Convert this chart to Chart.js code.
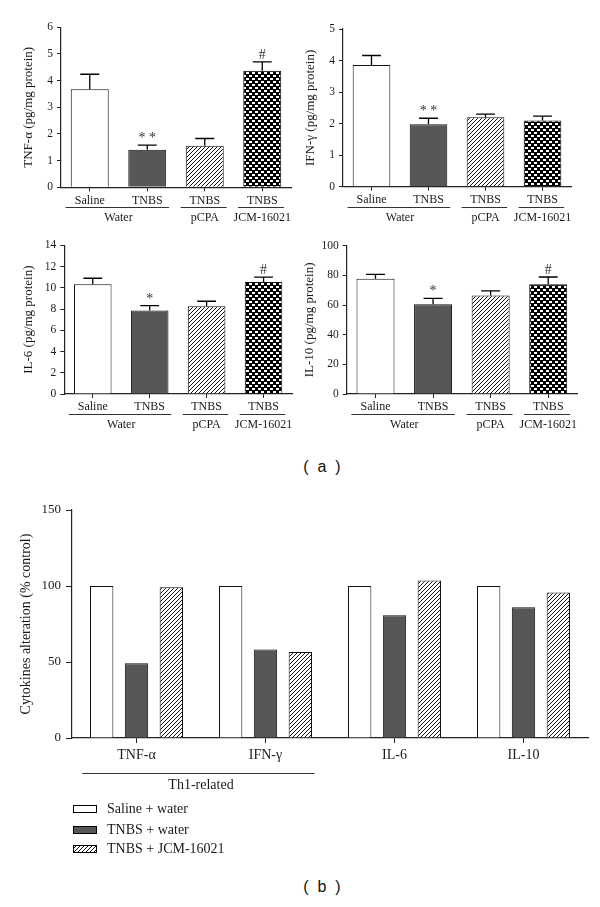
<!DOCTYPE html>
<html><head><meta charset="utf-8">
<script src="https://cdn.jsdelivr.net/npm/chart.js@4/dist/chart.umd.min.js"></script>
<style>
html,body{margin:0;padding:0;background:#fff;width:600px;height:907px;overflow:hidden;position:relative}
canvas{position:absolute;display:block}
.panel{position:absolute;font-family:"Liberation Sans",Arial,sans-serif;font-size:16px;color:#111;white-space:pre;transform:translate(-50%,-50%)}
</style></head><body>
<canvas id="cTNF" style="left:0;top:0" width="300" height="232"></canvas>
<canvas id="cIFN" style="left:300px;top:0" width="300" height="232"></canvas>
<canvas id="cIL6" style="left:0;top:232px" width="300" height="208"></canvas>
<canvas id="cIL10" style="left:300px;top:232px" width="300" height="208"></canvas>
<canvas id="cPct" style="left:0;top:490px" width="600" height="380"></canvas>
<div class="panel" style="left:322px;top:467px">(  a  )</div>
<div class="panel" style="left:322px;top:887px">(  b  )</div>
<script>
// ---------------- DATA ----------------
const groupCategories = ['Saline', 'TNBS', 'TNBS', 'TNBS'];
const groupTreatments = ['Water', 'Water', 'pCPA', 'JCM-16021'];

const tnfMeans = [3.68, 1.41, 1.56, 4.37];
const tnfSEM   = [0.56, 0.17, 0.27, 0.33];
const tnfMarks = ['', '**', '', '#'];

const ifnMeans = [3.86, 1.98, 2.20, 2.10];
const ifnSEM   = [0.30, 0.19, 0.10, 0.14];
const ifnMarks = ['', '**', '', ''];

const il6Means = [10.33, 7.85, 8.26, 10.55];
const il6SEM   = [0.57, 0.47, 0.47, 0.45];
const il6Marks = ['', '*', '', '#'];

const il10Means = [77.7, 60.5, 66.5, 74.0];
const il10SEM   = [3.0, 4.0, 3.0, 4.9];
const il10Marks = ['', '*', '', '#'];

const cytokines = ['TNF-α', 'IFN-γ', 'IL-6', 'IL-10'];
const cytokineFamily = ['Th1-related', 'Th1-related', '', ''];
const seriesLabels = ['Saline + water', 'TNBS + water', 'TNBS + JCM-16021'];
const salineWaterPct = [100, 100, 100, 100];
const tnbsWaterPct   = [49.1, 58.3, 80.7, 86.0];
const tnbsJcmPct     = [99.1, 56.6, 103.7, 95.8];

// ---------------- STYLE ----------------
const SERIF = '"Liberation Serif","Times New Roman",serif';
const INK = '#1a1a1a';
const AXIS = '#222';
const DARK = '#575757';
Chart.defaults.font.family = SERIF;
Chart.defaults.color = INK;
Chart.defaults.animation = false;

function hatchPattern() {
  const c = document.createElement('canvas'); c.width = 4; c.height = 4;
  const g = c.getContext('2d');
  g.fillStyle = '#fff'; g.fillRect(0, 0, 4, 4);
  g.strokeStyle = '#111'; g.lineWidth = 1.0;
  g.beginPath();
  g.moveTo(-1, 5); g.lineTo(5, -1);
  g.moveTo(-1, 1); g.lineTo(1, -1);
  g.moveTo(3, 5); g.lineTo(5, 3);
  g.stroke();
  return g.createPattern(c, 'repeat');
}
function checkerPattern() {
  const c = document.createElement('canvas'); c.width = 6; c.height = 6;
  const g = c.getContext('2d');
  g.fillStyle = '#000'; g.fillRect(0, 0, 6, 6);
  g.fillStyle = '#fff';
  g.fillRect(0, 0, 3, 2); g.fillRect(3, 3, 3, 2);
  return g.createPattern(c, 'repeat');
}
const HATCH = hatchPattern();
const CHECK = checkerPattern();
const groupFills = ['#ffffff', DARK, HATCH, CHECK];
const seriesFills = ['#ffffff', DARK, HATCH];

// runs of equal non-empty labels -> brackets
function runs(labels) {
  const out = [];
  labels.forEach((l, i) => {
    if (!l) return;
    const last = out[out.length - 1];
    if (last && last.label === l && last.last === i - 1) last.last = i;
    else out.push({label: l, first: i, last: i});
  });
  return out;
}

const errorBars = {
  id: 'errorBars',
  afterDatasetsDraw(chart, args, opts) {
    if (!opts.sem) return;
    const {ctx} = chart, y = chart.scales.y;
    const meta = chart.getDatasetMeta(0);
    const vals = chart.data.datasets[0].data;
    ctx.save();
    ctx.strokeStyle = '#000'; ctx.lineWidth = 1.3;
    meta.data.forEach((bar, i) => {
      const top = y.getPixelForValue(vals[i] + opts.sem[i]);
      const hw = bar.width / 4;
      ctx.beginPath();
      ctx.moveTo(bar.x, bar.y); ctx.lineTo(bar.x, top);
      ctx.moveTo(bar.x - hw, top); ctx.lineTo(bar.x + hw, top);
      ctx.stroke();
      if (opts.marks && opts.marks[i]) {
        ctx.fillStyle = '#333';
        ctx.font = '14px ' + SERIF;
        ctx.textAlign = 'center'; ctx.textBaseline = 'alphabetic';
        const txt = opts.marks[i].split('').join(' ');
        ctx.fillText(txt, bar.x, top - 3);
      }
    });
    ctx.restore();
  }
};

const brackets = {
  id: 'brackets',
  afterDraw(chart, args, opts) {
    if (!opts.groups) return;
    const {ctx} = chart, x = chart.scales.x;
    const axisY = chart.chartArea.bottom;
    ctx.save();
    ctx.strokeStyle = '#333'; ctx.lineWidth = 1.2;
    ctx.fillStyle = INK;
    ctx.font = opts.fontSize + 'px ' + SERIF;
    ctx.textAlign = 'center'; ctx.textBaseline = 'middle';
    opts.groups.forEach(g => {
      const x0 = x.getPixelForValue(g.first - 0.42);
      const x1 = x.getPixelForValue(g.last + 0.38);
      const ly = Math.round(axisY + opts.lineOffset) + 0.5;
      ctx.beginPath(); ctx.moveTo(x0, ly); ctx.lineTo(x1, ly); ctx.stroke();
      const cx = (x.getPixelForValue(g.first) + x.getPixelForValue(g.last)) / 2;
      ctx.fillText(g.label, cx, axisY + opts.labelOffset);
    });
    ctx.restore();
  }
};

const legendBoxes = {
  id: 'legendBoxes',
  afterDraw(chart, args, opts) {
    if (!opts.rows) return;
    const {ctx} = chart;
    ctx.save();
    ctx.font = '14px ' + SERIF;
    ctx.textBaseline = 'middle'; ctx.textAlign = 'left';
    chart.data.datasets.forEach((ds, i) => {
      const cy = opts.rows[i];
      ctx.fillStyle = ds.backgroundColor;
      ctx.fillRect(opts.boxX, cy - 4, opts.boxW, 8);
      ctx.strokeStyle = '#000'; ctx.lineWidth = 1;
      ctx.strokeRect(opts.boxX + 0.5, cy - 4 + 0.5, opts.boxW - 1, 7);
      ctx.fillStyle = INK;
      ctx.fillText(ds.label, opts.textX, cy);
    });
    ctx.restore();
  }
};

function fixAxis(size, vertical) {
  return function (scale) {
    if (vertical) scale.width = size; else scale.height = size;
    scale.paddingTop = 0; scale.paddingBottom = 0;
    scale.paddingLeft = 0; scale.paddingRight = 0;
  };
}

function smallChart(id, means, sem, marks, yMax, yStep, yTitle, area, titlePad) {
  const cv = document.getElementById(id);
  const W = cv.width, H = cv.height;
  return new Chart(cv, {
    type: 'bar',
    data: {
      labels: groupCategories,
      datasets: [{
        data: means,
        backgroundColor: groupFills,
        borderColor: '#111',
        borderWidth: 1,
        barPercentage: 0.66,
        categoryPercentage: 1
      }]
    },
    options: {
      responsive: false,
      animation: false,
      layout: {padding: {left: 0, top: area.top, right: W - area.right, bottom: 0}},
      plugins: {
        legend: {display: false}, tooltip: {enabled: false},
        errorBars: {sem: sem, marks: marks},
        brackets: {groups: runs(groupTreatments), fontSize: 12, lineOffset: 20, labelOffset: 31}
      },
      scales: {
        x: {
          afterFit: fixAxis(H - area.bottom, false),
          grid: {display: true, drawOnChartArea: false, drawTicks: true, tickLength: 4, offset: false, color: AXIS, lineWidth: 1},
          border: {display: true, color: AXIS, width: 1.2},
          ticks: {font: {size: 12, family: SERIF}, color: INK, padding: 2, maxRotation: 0, autoSkip: false}
        },
        y: {
          min: 0, max: yMax,
          afterFit: fixAxis(area.left, true),
          grid: {display: true, drawOnChartArea: false, drawTicks: true, tickLength: 4, color: AXIS, lineWidth: 1},
          border: {display: true, color: AXIS, width: 1.2},
          ticks: {stepSize: yStep, font: {size: 11.5, family: SERIF}, color: INK, padding: 4},
          title: {display: true, text: yTitle, font: {size: 13, family: SERIF}, color: INK, padding: {top: titlePad, bottom: 0}}
        }
      }
    },
    plugins: [errorBars, brackets]
  });
}

smallChart('cTNF', tnfMeans, tnfSEM, tnfMarks, 6, 1, 'TNF-α (pg/mg protein)',
  {left: 61, right: 291, top: 27.3, bottom: 187.3}, 20.5);
smallChart('cIFN', ifnMeans, ifnSEM, ifnMarks, 5, 1, 'IFN-γ (pg/mg protein)',
  {left: 43, right: 271, top: 29, bottom: 186.7}, 3.2);
smallChart('cIL6', il6Means, il6SEM, il6Marks, 14, 2, 'IL-6 (pg/mg protein)',
  {left: 64.3, right: 292, top: 13.3, bottom: 162}, 21);
smallChart('cIL10', il10Means, il10SEM, il10Marks, 100, 20, 'IL-10 (pg/mg protein)',
  {left: 46.7, right: 277, top: 13.7, bottom: 162}, 2.2);

// ---------------- panel (b) ----------------
(function () {
  const cv = document.getElementById('cPct');
  const W = cv.width, H = cv.height;
  const area = {left: 72, right: 588, top: 20, bottom: 248};
  const values = [salineWaterPct, tnbsWaterPct, tnbsJcmPct];
  new Chart(cv, {
    type: 'bar',
    data: {
      labels: cytokines,
      datasets: values.map((v, i) => ({
        label: seriesLabels[i],
        data: v,
        backgroundColor: seriesFills[i],
        borderColor: '#111',
        borderWidth: 1,
        barPercentage: 0.67,
        categoryPercentage: 0.81
      }))
    },
    options: {
      responsive: false,
      animation: false,
      layout: {padding: {left: 0, top: area.top, right: W - area.right, bottom: 0}},
      plugins: {
        legend: {display: false}, tooltip: {enabled: false},
        brackets: {groups: runs(cytokineFamily), fontSize: 14, lineOffset: 35.3, labelOffset: 47},
        legendBoxes: {rows: [319, 340, 359], boxX: 73, boxW: 24, textX: 107}
      },
      scales: {
        x: {
          afterFit: fixAxis(H - area.bottom, false),
          grid: {display: true, drawOnChartArea: false, drawTicks: true, tickLength: 5, offset: false, color: AXIS, lineWidth: 1},
          border: {display: true, color: AXIS, width: 1.2},
          ticks: {font: {size: 14, family: SERIF}, color: INK, padding: 4, maxRotation: 0, autoSkip: false}
        },
        y: {
          min: 0, max: 150,
          afterFit: fixAxis(area.left, true),
          grid: {display: true, drawOnChartArea: false, drawTicks: true, tickLength: 6, color: AXIS, lineWidth: 1},
          border: {display: true, color: AXIS, width: 1.2},
          ticks: {stepSize: 50, font: {size: 13, family: SERIF}, color: INK, padding: 5},
          title: {display: true, text: 'Cytokines alteration (% control)', font: {size: 14, family: SERIF}, color: INK, padding: {top: 17.6, bottom: 0}}
        }
      }
    },
    plugins: [brackets, legendBoxes]
  });
})();
</script>
</body></html>
